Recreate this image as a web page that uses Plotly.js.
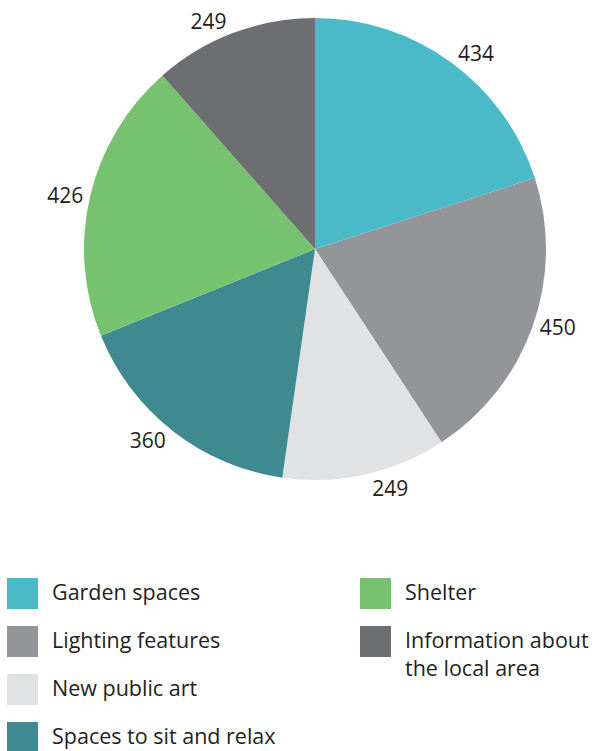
<!DOCTYPE html>
<html>
<head>
<meta charset="utf-8">
<script src="https://cdn.plot.ly/plotly-3.0.1.min.js"></script>
<style>html,body{margin:0;padding:0;background:#fff;}#chart{width:598px;height:751px;}</style>
</head>
<body>
<div id="chart"></div>
<script>
const categories = ["Garden spaces", "Lighting features", "New public art", "Spaces to sit and relax", "Shelter", "Information about<br>the local area"];
const values = [434, 450, 249, 360, 426, 249];
const colors = ["#4ab9c8", "#939598", "#e1e2e4", "#3f8a91", "#77c26f", "#6d6e72"];

const FONT = "'Open Sans', Roboto, 'DejaVu Sans', sans-serif";
const W = 598, H = 751;

const trace = {
  type: "pie",
  values: values,
  labels: categories,
  marker: {colors: colors, line: {width: 0}},
  sort: false,
  direction: "clockwise",
  rotation: 0,
  textinfo: "value",
  textposition: "outside",
  outsidetextfont: {family: FONT, size: 21, color: "#231f20"},
  showlegend: false,
  hoverinfo: "label+value",
  domain: {x: [84 / W, 546 / W], y: [1 - 480 / H, 1 - 18 / H]}
};

// custom two-column legend (column-major order)
const shapes = [], annotations = [];
const perCol = 4;
categories.forEach((c, i) => {
  const col = Math.floor(i / perCol), row = i % perCol;
  const x0 = col === 0 ? 7 : 360;
  const y0 = 578 + row * 48;
  shapes.push({type: "rect", xref: "paper", yref: "paper",
    x0: x0 / W, x1: (x0 + 31) / W, y0: 1 - y0 / H, y1: 1 - (y0 + 31) / H,
    fillcolor: colors[i], line: {width: 0}});
  annotations.push({xref: "paper", yref: "paper", x: (x0 + 43) / W, y: 1 - (y0 - 3) / H,
    xanchor: "left", yanchor: "top", align: "left", showarrow: false,
    text: c, font: {family: FONT, size: 21.5, color: "#231f20"}});
});

const layout = {
  width: W, height: H,
  margin: {l: 0, r: 0, t: 0, b: 0},
  paper_bgcolor: "#ffffff",
  showlegend: false,
  shapes: shapes,
  annotations: annotations
};

Plotly.newPlot("chart", [trace], layout, {displayModeBar: false, staticPlot: true});
</script>
</body>
</html>
